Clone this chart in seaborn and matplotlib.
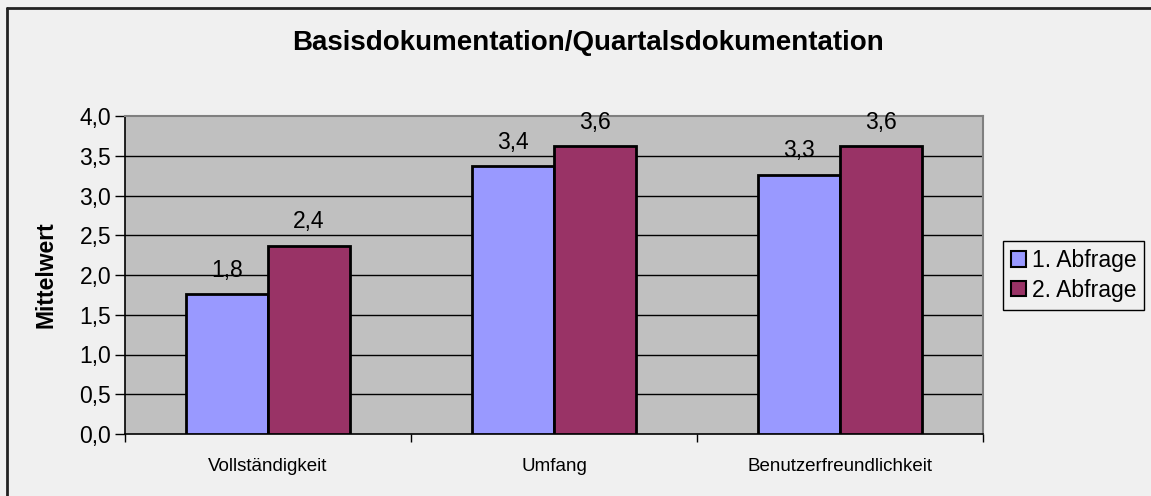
import matplotlib
matplotlib.use("Agg")
import matplotlib.pyplot as plt
from matplotlib.lines import Line2D
import seaborn as sns
import pandas as pd

categories = ["Vollständigkeit", "Umfang", "Benutzerfreundlichkeit"]
series_names = ["1. Abfrage", "2. Abfrage"]
abfrage1 = [1.76, 3.37, 3.26]
abfrage2 = [2.37, 3.62, 3.62]
yticks = [0.0, 0.5, 1.0, 1.5, 2.0, 2.5, 3.0, 3.5, 4.0]
colors = ["#9999FF", "#993366"]

df = pd.DataFrame({
    "Kategorie": categories * 2,
    "Serie": [series_names[0]] * 3 + [series_names[1]] * 3,
    "Mittelwert": abfrage1 + abfrage2,
})

sns.set_style("white")
plt.rcParams["font.family"] = ["Liberation Sans", "DejaVu Sans"]
plt.rcParams["text.color"] = "black"
plt.rcParams["axes.labelcolor"] = "black"
plt.rcParams["xtick.color"] = "black"
plt.rcParams["ytick.color"] = "black"

W, H = 1151, 496
fig = plt.figure(figsize=(W / 100, H / 100), dpi=100, facecolor="#F0F0F0")
ax = fig.add_axes([125 / W, 1 - 434 / H, (983 - 125) / W, (434 - 116) / H])
ax.set_facecolor("#C0C0C0")

sns.barplot(data=df, x="Kategorie", y="Mittelwert", hue="Serie", order=categories,
            hue_order=series_names, palette=colors, saturation=1, width=0.57,
            edgecolor="black", linewidth=2, ax=ax, zorder=3, legend=True)

ax.set_ylim(0, 4)
ax.set_xlim(-0.5, 2.5)
ax.set_yticks(yticks)
ax.set_yticklabels([f"{v:.1f}".replace(".", ",") for v in yticks], fontsize=16.5)
for y in yticks[1:-1]:
    ax.axhline(y, color="black", linewidth=1, zorder=1)

ax.set_xticks(range(3))
ax.set_xticklabels(categories, fontsize=13.5)
ax.set_xticks([-0.5, 0.5, 1.5, 2.5], minor=True)
ax.tick_params(axis="x", which="major", length=0, pad=17)
ax.tick_params(axis="x", which="minor", length=6, width=1, color="black", direction="out", bottom=True)
ax.tick_params(axis="y", length=7, width=1, color="black", direction="out", left=True, pad=3)

ax.set_xlabel("")
ax.set_ylabel("Mittelwert", fontsize=16.5, fontweight="bold", labelpad=16)

for side in ["left", "bottom"]:
    ax.spines[side].set_color("black")
    ax.spines[side].set_linewidth(1.2)
for side in ["top", "right"]:
    ax.spines[side].set_color("#808080")
    ax.spines[side].set_linewidth(1.5)

for cont in ax.containers:
    ax.bar_label(cont, labels=[f"{b.get_height():.1f}".replace(".", ",") for b in cont],
                 fontsize=16.5, padding=9)

ax.get_legend().remove()
handles = [plt.Rectangle((0, 0), 1, 1, facecolor=c, edgecolor="black", linewidth=1.5) for c in colors]
fig.legend(handles, series_names, loc="upper left", bbox_to_anchor=(1003 / W, 1 - 241 / H),
           bbox_transform=fig.transFigure, borderaxespad=0, fancybox=False, edgecolor="black",
           framealpha=1, facecolor="#F0F0F0", fontsize=16.5, handlelength=0.65, handleheight=0.65,
           handletextpad=0.25, borderpad=0.35, labelspacing=0.3)

fig.text(588 / W, 1 - 43 / H, "Basisdokumentation/Quartalsdokumentation", ha="center", va="center",
         fontsize=20, fontweight="bold")

fig.add_artist(Line2D([7.5 / W, 7.5 / W], [0, 1 - 7.5 / H], transform=fig.transFigure, color="#222222", linewidth=2))
fig.add_artist(Line2D([7.5 / W, 1], [1 - 7.5 / H, 1 - 7.5 / H], transform=fig.transFigure, color="#222222", linewidth=2))

fig.savefig("out.png", dpi=100, facecolor=fig.get_facecolor())
